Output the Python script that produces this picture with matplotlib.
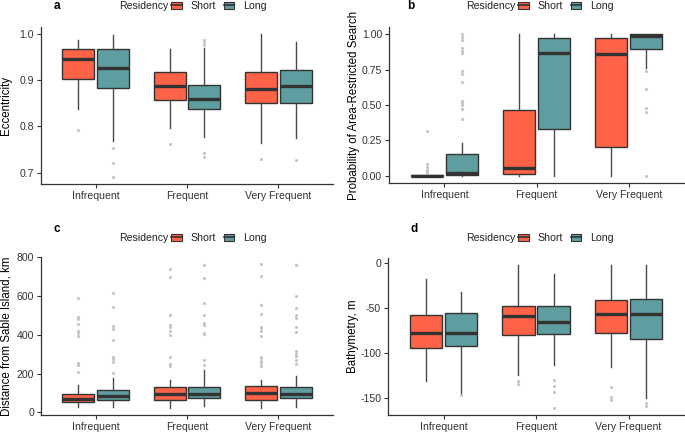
import matplotlib
matplotlib.use('Agg')
import matplotlib.pyplot as plt
from matplotlib.patches import Patch
from matplotlib.lines import Line2D

plt.rcParams['font.family'] = ['Liberation Sans', 'DejaVu Sans']
plt.rcParams['axes.unicode_minus'] = False

categories = ['Infrequent', 'Frequent', 'Very Frequent']
groups = ['Short', 'Long']

# five number summaries: [whislo, q1, med, q3, whishi] per category
ecc_short = [[0.837, 0.903, 0.946, 0.968, 0.987], [0.796, 0.857, 0.888, 0.918, 0.966], [0.765, 0.850, 0.881, 0.917, 0.999]]
ecc_long = [[0.769, 0.882, 0.925, 0.966, 0.998], [0.776, 0.837, 0.859, 0.890, 0.970], [0.774, 0.850, 0.887, 0.921, 0.982]]
ecc_short_out = [[0.792], [0.761], [0.729]]
ecc_long_out = [[0.753, 0.720, 0.691], [0.987, 0.981, 0.975, 0.743, 0.733], [0.727]]

ars_short = [[0.0, 0.0, 0.0, 0.005, 0.008], [0.0, 0.012, 0.054, 0.468, 1.0], [0.0, 0.201, 0.860, 0.972, 1.0]]
ars_long = [[0.0, 0.007, 0.023, 0.155, 0.234], [0.0, 0.328, 0.867, 0.972, 1.0], [0.761, 0.897, 0.984, 0.998, 1.0]]
ars_short_out = [[0.318, 0.084, 0.062, 0.045, 0.030, 0.020], [], []]
ars_long_out = [[0.398, 0.47, 0.50, 0.515, 0.53, 0.66, 0.72, 0.74, 0.87, 0.88, 0.90, 0.96, 0.98, 1.0], [],
                [0.742, 0.614, 0.48, 0.45, 0.0]]

dist_short = [[26, 54, 68, 96, 140], [23, 65, 93, 130, 165], [23, 65, 102, 137, 165]]
dist_long = [[26, 61, 84, 116, 179], [32, 74, 93, 130, 217], [28, 75, 96, 133, 189]]
dist_short_out = [[206, 245, 255, 395, 410, 420, 455, 480, 490, 590],
                  [240, 250, 285, 400, 420, 440, 450, 500, 505, 700, 740],
                  [240, 255, 265, 280, 285, 395, 420, 435, 440, 510, 555, 705, 765]]
dist_long_out = [[205, 260, 275, 285, 375, 430, 445, 545, 615],
                 [245, 270, 405, 410, 450, 460, 505, 565, 695, 760],
                 [250, 270, 290, 300, 315, 415, 440, 485, 505, 540, 600, 760]]

bathy_short = [[-131, -94.5, -78, -58, -17], [-124, -79.5, -59, -47.6, -2], [-115.5, -78, -56, -40.5, -2]]
bathy_long = [[-144, -92, -78, -55.5, -32], [-113.6, -79, -65.6, -47.6, -12], [-150, -84.4, -56, -39.4, -2]]
bathy_short_out = [[], [-131, -134], [-137.6, -149, -152]]
bathy_long_out = [[-147], [-130, -137, -143, -161], [-155.6, -158.6]]

short_col = '#FF6347'
long_col = '#5F9EA0'
dark = '#333333'

W, H = 685, 432
fig = plt.figure(figsize=(W / 100, H / 100), dpi=100)


def px_axes(left, top, right, bottom):
    return fig.add_axes([left / W, 1 - bottom / H, (right - left) / W, (bottom - top) / H])


def stats(summ, outs):
    res = []
    for s, o in zip(summ, outs):
        res.append(dict(whislo=s[0], q1=s[1], med=s[2], q3=s[3], whishi=s[4], fliers=o))
    return res


def panel(ax, short, short_out, long, long_out, ticks, ticklabels, ylabel, labx):
    xs = range(1, len(categories) + 1)
    for summ, outs, col, off in [(short, short_out, short_col, -0.19), (long, long_out, long_col, 0.19)]:
        ax.bxp(stats(summ, outs), positions=[x + off for x in xs], widths=0.35, patch_artist=True,
               showcaps=False,
               boxprops=dict(facecolor=col, edgecolor=dark, linewidth=1.0),
               medianprops=dict(color=dark, linewidth=2.4, solid_capstyle='butt'),
               whiskerprops=dict(color='#4a4a4a', linewidth=1.0),
               flierprops=dict(marker='o', markersize=2.2, markerfacecolor='#c4c4c4',
                               markeredgecolor='none'))
    allv = [v for s in short + long for v in s] + [v for o in short_out + long_out for v in o]
    lo, hi = min(allv), max(allv)
    pad = (hi - lo) * 0.05
    ax.set_ylim(lo - pad, hi + pad)
    ax.set_xlim(0.4, 3.6)
    ax.set_xticks(list(xs))
    ax.set_xticklabels(categories)
    ax.set_yticks(ticks)
    ax.set_yticklabels(ticklabels)
    ax.set_ylabel(ylabel, fontsize=8.3, color='black')
    ax.yaxis.set_label_coords(labx, 0.5)
    for sp in ['top', 'right']:
        ax.spines[sp].set_visible(False)
    for sp in ['left', 'bottom']:
        ax.spines[sp].set_color(dark)
        ax.spines[sp].set_linewidth(0.9)
    ax.tick_params(length=3, width=0.8, color=dark, labelsize=7.6, labelcolor='#333333', pad=2)
    ax.set_facecolor('white')


def legend(xr, y):
    fig.text(xr / W, 1 - y / H, 'Residency', ha='right', va='center', fontsize=7.6, color='#222222')
    hs = [(Patch(facecolor=short_col, edgecolor=dark, linewidth=0.8), Line2D([], [], color=dark, linewidth=1.2)),
          (Patch(facecolor=long_col, edgecolor=dark, linewidth=0.8), Line2D([], [], color=dark, linewidth=1.2))]
    fig.legend(hs, groups, loc='center left', bbox_to_anchor=((xr + 3) / W, 1 - y / H), ncol=2, frameon=False,
               fontsize=7.6, handlelength=1.0, handleheight=0.7, handletextpad=0.8, columnspacing=0.8,
               borderpad=0, borderaxespad=0, labelcolor='#222222')


ax_a = px_axes(41, 27, 333, 184)
panel(ax_a, ecc_short, ecc_short_out, ecc_long, ecc_long_out,
      [0.7, 0.8, 0.9, 1.0], ['0.7', '0.8', '0.9', '1.0'], 'Eccentricity', -0.099)

ax_b = px_axes(389, 27, 684, 183)
panel(ax_b, ars_short, ars_short_out, ars_long, ars_long_out,
      [0, 0.25, 0.5, 0.75, 1.0], ['0.00', '0.25', '0.50', '0.75', '1.00'],
      'Probability of Area-Restricted Search', -0.10)

ax_c = px_axes(41, 257, 333, 415)
panel(ax_c, dist_short, dist_short_out, dist_long, dist_long_out,
      [0, 200, 400, 600, 800], ['0', '200', '400', '600', '800'], 'Distance from Sable Island, km', -0.099)

ax_d = px_axes(388, 258, 684, 415)
panel(ax_d, bathy_short, bathy_short_out, bathy_long, bathy_long_out,
      [0, -50, -100, -150], ['0', '-50', '-100', '-150'], 'Bathymetry, m', -0.098)

for lab, x, y in [('a', 54, 6), ('b', 407, 6), ('c', 54, 229), ('d', 410, 229)]:
    fig.text(x / W, 1 - y / H, lab, fontsize=8.5, fontweight='bold', ha='left', va='center')

legend(168, 6)
legend(515, 6)
legend(168, 238)
legend(515, 238)

fig.savefig('out.png', dpi=100, facecolor='white')
